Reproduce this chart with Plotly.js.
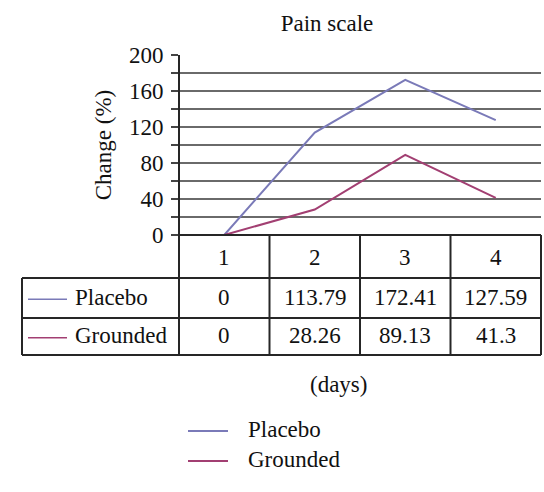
<!DOCTYPE html>
<html>
<head>
<meta charset="utf-8">
<script src="https://cdn.plot.ly/plotly-3.0.1.min.js"></script>
<style>html,body{margin:0;padding:0;background:#fff;}#chart{width:544px;height:492px;}</style>
</head>
<body>
<div id="chart"></div>
<script>
// ---- data ----
const days = ['1', '2', '3', '4'];
const dayNums = [1, 2, 3, 4];
const seriesNames = ['Placebo', 'Grounded'];
const placebo = [0, 113.79, 172.41, 127.59];
const grounded = [0, 28.26, 89.13, 41.3];
const yTickVals = [0, 20, 40, 60, 80, 100, 120, 140, 160, 180, 200];
const yTickText = ['0', '', '40', '', '80', '', '120', '', '160', '', '200'];

// ---- styles ----
const colors = ['#7a7ab8', '#a23f72'];
const FONT = 'Liberation Serif, Times New Roman, serif';
const TXT = '#111';
const LINE = '#262626';
const fs = 23;

const W = 544, H = 492;
const L = 179, R = 3, T = 55, B = 257;
const plotW = W - L - R, plotH = H - T - B;
const px2x = p => (p - L) / plotW;          // pixel -> paper x
const px2y = p => (H - B - p) / plotH;      // pixel -> paper y

const allSeries = [placebo, grounded];

const traces = allSeries.map((vals, i) => ({
  type: 'scatter', mode: 'lines',
  x: dayNums, y: vals, name: seriesNames[i],
  line: {color: colors[i], width: 2},
  showlegend: false, cliponaxis: false
}));

// table geometry (pixels)
const tblLeft = px2x(22), tblRight = 1;
const rowHeadBot = px2y(278), rowPlBot = px2y(318), rowGrBot = px2y(355);
const rowCenters = [px2y(257), px2y(297), px2y(335.5)];

const shapes = [];
const hl = (y, x0, x1) => shapes.push({type: 'line', xref: 'paper', yref: 'paper', x0, x1, y0: y, y1: y, line: {color: LINE, width: 2}, layer: 'above'});
const vl = (x, y0, y1) => shapes.push({type: 'line', xref: 'paper', yref: 'paper', x0: x, x1: x, y0, y1, line: {color: LINE, width: 2}, layer: 'above'});
hl(0, 0, tblRight);
hl(rowHeadBot, tblLeft, tblRight);
hl(rowPlBot, tblLeft, tblRight);
hl(rowGrBot, tblLeft, tblRight);
vl(tblLeft, rowHeadBot, rowGrBot);
vl(0, 1, rowGrBot);
for (let k = 1; k <= days.length; k++) vl(k / days.length, 0, rowGrBot);

const annotations = [];
// header day numbers
days.forEach((d, i) => annotations.push({
  xref: 'x', yref: 'paper', x: dayNums[i], y: rowCenters[0], text: d, showarrow: false,
  xanchor: 'center', yanchor: 'middle', font: {family: FONT, size: fs, color: TXT}
}));
// value rows
allSeries.forEach((vals, s) => {
  vals.forEach((v, i) => annotations.push({
    xref: 'x', yref: 'paper', x: dayNums[i], y: rowCenters[s + 1], text: String(v), showarrow: false,
    xanchor: 'center', yanchor: 'middle', font: {family: FONT, size: fs, color: TXT}
  }));
  // row label with line sample
  const ys = rowCenters[s + 1] - 0.012;
  shapes.push({type: 'line', xref: 'paper', yref: 'paper', x0: px2x(28), x1: px2x(67), y0: ys, y1: ys, line: {color: colors[s], width: 1.5}});
  annotations.push({
    xref: 'paper', yref: 'paper', x: px2x(73), y: rowCenters[s + 1], text: seriesNames[s], showarrow: false,
    xanchor: 'left', yanchor: 'middle', font: {family: FONT, size: fs, color: TXT}
  });
});
// x label
annotations.push({
  xref: 'paper', yref: 'paper', x: px2x(338), y: px2y(384), text: '(days)', showarrow: false,
  xanchor: 'center', yanchor: 'middle', font: {family: FONT, size: fs, color: TXT}
});
// bottom legend
const legY = [431, 461];
seriesNames.forEach((n, s) => {
  const y = px2y(legY[s]);
  shapes.push({type: 'line', xref: 'paper', yref: 'paper', x0: px2x(188), x1: px2x(228), y0: y, y1: y, line: {color: colors[s], width: 2}});
  annotations.push({
    xref: 'paper', yref: 'paper', x: px2x(246), y: y + 0.01, text: n, showarrow: false,
    xanchor: 'left', yanchor: 'middle', font: {family: FONT, size: fs, color: TXT}
  });
});

const layout = {
  width: W, height: H,
  margin: {l: L, r: R, t: T, b: B, pad: 0},
  paper_bgcolor: '#fff', plot_bgcolor: '#fff',
  title: {text: 'Pain scale', x: px2x(327) * plotW / W + L / W, xanchor: 'center', xref: 'container',
          y: 1 - 23 / H, yanchor: 'middle', font: {family: FONT, size: fs, color: TXT}},
  xaxis: {range: [0.5, 4.5], showgrid: false, zeroline: false, showticklabels: false, ticks: '', showline: false, fixedrange: true},
  yaxis: {range: [0, 200], tickvals: yTickVals, ticktext: yTickText, showgrid: true, gridcolor: '#6a6a6a', gridwidth: 2,
          zeroline: false, ticks: 'outside', ticklen: 7, tickwidth: 2, tickcolor: '#444',
          showline: false, ticklabelstandoff: 3,
          tickfont: {family: FONT, size: fs, color: TXT},
          title: {text: 'Change (%)', standoff: 10, font: {family: FONT, size: fs, color: TXT}}},
  shapes, annotations, showlegend: false
};

Plotly.newPlot('chart', traces, layout, {staticPlot: true, displayModeBar: false});
</script>
</body>
</html>
